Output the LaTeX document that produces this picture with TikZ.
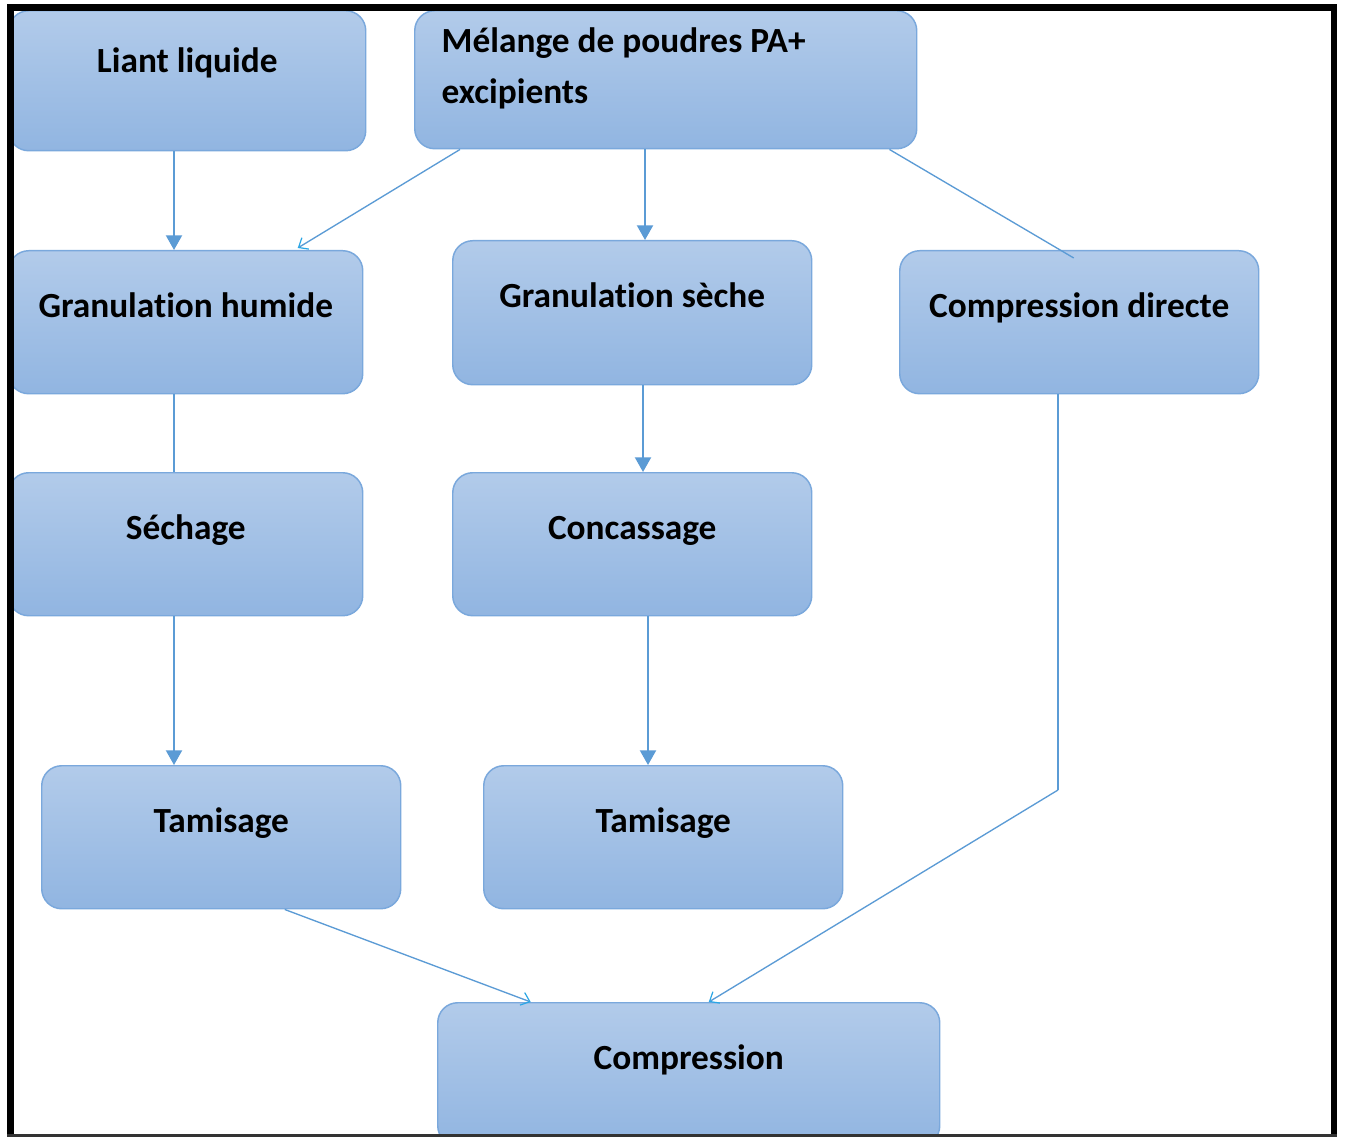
\documentclass[tikz,border=0pt]{standalone}
\usepackage{fontspec}
\setmainfont{Carlito}[Ligatures=NoCommon]
\usetikzlibrary{arrows.meta,calc}
\definecolor{boxtop}{HTML}{B2CBEA}
\definecolor{boxbot}{HTML}{91B5E1}
\definecolor{boxedge}{HTML}{7AA8DC}
\definecolor{linec}{HTML}{5B9BD5}
\definecolor{tipc}{HTML}{2AA6E6}
\begin{document}
\begin{tikzpicture}[x=0.75pt,y=-0.75pt,
  box/.style={draw=boxedge, line width=1.1pt, rounded corners=15pt,
    top color=boxtop, bottom color=boxbot, inner sep=0pt, anchor=north west,
    font=\bfseries\fontsize{26.5pt}{32pt}\selectfont,
    text height=50.25pt, text depth=57pt, minimum height=107.25pt},
  flow/.style={draw=linec, line width=1.5pt},
  tip/.style={-{Triangle[width=12pt,length=11pt]}},
  thin flow/.style={draw=linec, line width=1pt},
  open tip/.style={-{Straight Barb[length=6pt,width=10pt,color=tipc,line width=0.9pt]}}]

\clip (0,0) rectangle (1345,1137);
\fill[white] (0,0) rectangle (1345,1137);

% process boxes
\node[box, minimum width=267.75pt, minimum height=105pt, text height=46.5pt, text depth=58.5pt]
  (liant) at (8,10) {Liant liquide};
\node[box, minimum width=376.5pt, minimum height=103.5pt, text width=336pt, align=flush left,
  font=\bfseries\fontsize{26.5pt}{38.25pt}\selectfont, text height=31.5pt, text depth=72pt]
  (mel) at (414,10) {M\'elange de poudres PA+\\excipients};
\node[box, minimum width=265.5pt] (gh) at (8,250) {Granulation humide};
\node[box, minimum width=269.25pt, minimum height=108pt, text depth=57.75pt] (gs) at (452,240) {Granulation s\`eche};
\node[box, minimum width=269.25pt] (cd) at (899,250) {Compression directe};
\node[box, minimum width=265.5pt] (sech) at (8,472) {S\'echage};
\node[box, minimum width=269.25pt] (conc) at (452,472) {Concassage};
\node[box, minimum width=269.25pt] (tam1) at (41,765) {Tamisage};
\node[box, minimum width=269.25pt] (tam2) at (483,765) {Tamisage};
\node[box, minimum width=376.5pt] (comp) at (437,1002) {Compression};

% connection points
\coordinate (lx) at (174,0);
\coordinate (sx) at (645,0);
\coordinate (cx) at (643,0);
\coordinate (tx) at (648,0);
\coordinate (bend) at (1058,790);

% connectors
\draw[flow, tip] (lx |- liant.south) -- (lx |- gh.north);
\draw[thin flow, open tip] ($(mel.south west)+(46,0)$) -- ($(gh.north)+(112,-2)$);
\draw[flow, tip] (sx |- mel.south) -- (sx |- gs.north);
\draw[thin flow] ($(mel.south east)+(-28,0)$) -- ($(cd.north)+(-5.5,8)$);
\draw[flow] (lx |- gh.south) -- (lx |- sech.north);
\draw[flow, tip] (lx |- sech.south) -- (lx |- tam1.north);
\draw[flow, tip] (cx |- gs.south) -- (cx |- conc.north);
\draw[flow, tip] (tx |- conc.south) -- (tx |- tam2.north);
\draw[thin flow] (bend |- cd.south) -- (bend);
\draw[thin flow, open tip] (bend) -- ($(comp.north)+(20,0)$);
\draw[thin flow, open tip] ($(tam1.south)+(63.5,0)$) -- ($(comp.north)+(-158,0)$);

% frame
\fill[black] (7,4) rectangle (14,1137);
\fill[black] (7,4) rectangle (1337,11);
\fill[black] (1331,4) rectangle (1337,1137);
\fill[black!80] (7,1134) rectangle (1337,1137);
\end{tikzpicture}
\end{document}
